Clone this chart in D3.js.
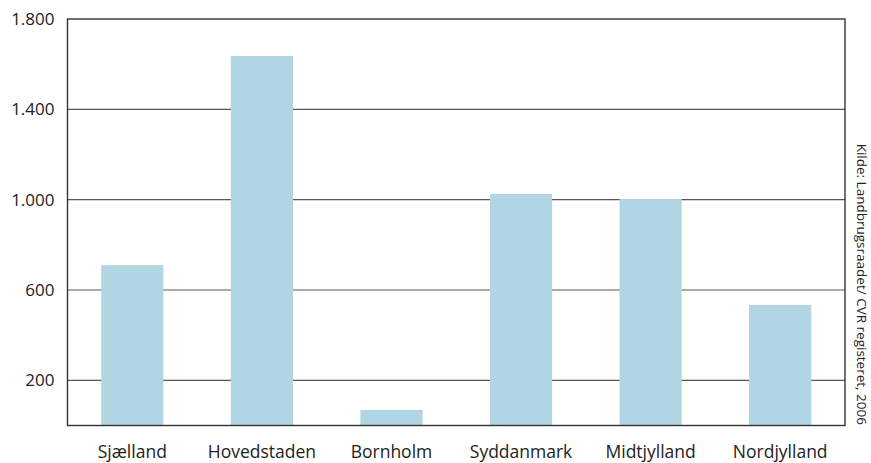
<!DOCTYPE html>
<html>
<head>
<meta charset="utf-8">
<script src="https://cdn.jsdelivr.net/npm/d3@7"></script>
<style>
  html, body { margin: 0; padding: 0; background: #fff; }
  svg { display: block; }
  text { font-family: "Open Sans", sans-serif; fill: #222; }
</style>
</head>
<body>
<svg id="chart" width="871" height="463"></svg>
<script>
const categories = ["Sjælland", "Hovedstaden", "Bornholm", "Syddanmark", "Midtjylland", "Nordjylland"];
const values = [710, 1636, 69, 1025, 1003, 534];
const tickValues = [200, 600, 1000, 1400, 1800];
const tickLabels = ["200", "600", "1.000", "1.400", "1.800"];
const sourceText = "Kilde: Landbrugsraadet/ CVR registeret, 2006";

(function () {
const svg = d3.select("#chart");
const mLeft = 67.5, mRight = 845, mTop = 19, mBottom = 425.5;

const x = d3.scaleBand().domain(categories).range([mLeft, mRight])
  .paddingInner(0.52).paddingOuter(0.26);
const y = d3.scaleLinear().domain([0, 1800]).range([mBottom, mTop]);

// gridlines
svg.append("g").selectAll("line").data(tickValues.slice(0, -1)).join("line")
  .attr("x1", mLeft).attr("x2", mRight)
  .attr("y1", d => y(d)).attr("y2", d => y(d))
  .attr("stroke", "#555").attr("stroke-width", 1.2);

// bars
svg.append("g").selectAll("rect").data(categories).join("rect")
  .attr("x", d => x(d))
  .attr("width", x.bandwidth())
  .attr("y", (d, i) => y(values[i]))
  .attr("height", (d, i) => y(0) - y(values[i]))
  .attr("fill", "#b2d5e3");

// frame
svg.append("rect")
  .attr("x", mLeft).attr("y", mTop)
  .attr("width", mRight - mLeft).attr("height", mBottom - mTop)
  .attr("fill", "none").attr("stroke", "#333").attr("stroke-width", 1.4);

// y axis labels
const yAxis = d3.axisLeft(y).tickValues(tickValues)
  .tickFormat((d, i) => tickLabels[i]).tickSize(0).tickPadding(13);
const gy = svg.append("g").attr("transform", `translate(${mLeft},0)`).call(yAxis);
gy.select(".domain").remove();
gy.selectAll("text").style("font-size", "17px").style("font-family", "'Open Sans', sans-serif").attr("fill", "#222");

// x axis labels
const xAxis = d3.axisBottom(x).tickSize(0).tickPadding(20);
const gx = svg.append("g").attr("transform", `translate(0,${mBottom})`).call(xAxis);
gx.select(".domain").remove();
gx.selectAll("text").style("font-size", "17.5px").style("font-family", "'Open Sans', sans-serif").attr("fill", "#222");

// source text rotated
svg.append("text")
  .attr("transform", `translate(862,425) rotate(90)`)
  .attr("text-anchor", "end")
  .attr("dominant-baseline", "central")
  .style("font-size", "13.5px")
  .text(sourceText);
})();
</script>
</body>
</html>
